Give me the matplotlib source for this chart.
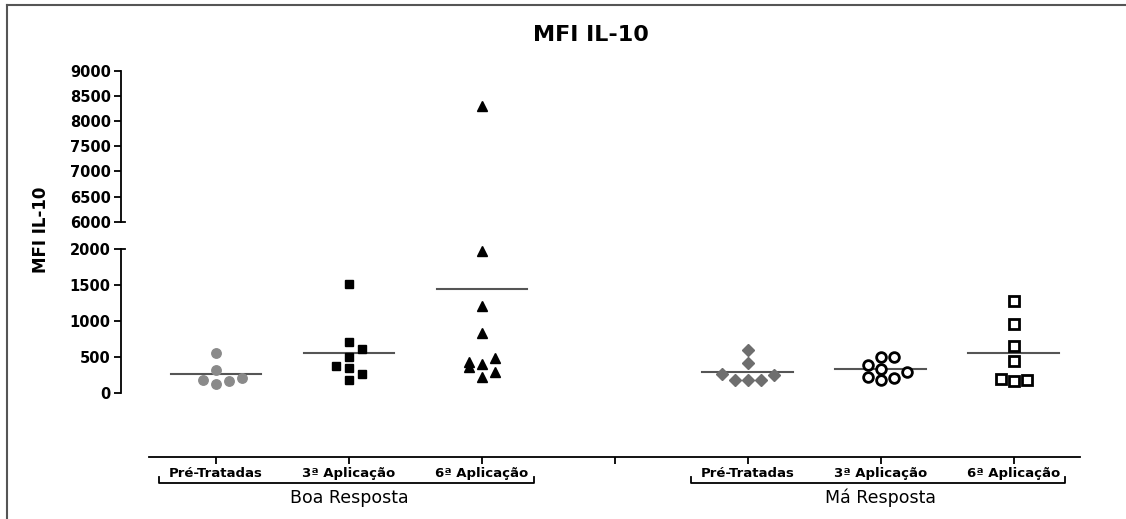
import matplotlib
matplotlib.use('Agg')
import matplotlib.pyplot as plt
import matplotlib.transforms as mtransforms
from matplotlib.lines import Line2D
import numpy as np

# MFI IL-10 values per group
boa_pre = [550, 312, 177, 126, 163, 200]
boa_3a = [1510, 703, 614, 494, 377, 344, 256, 177]
boa_6a = [8300, 1980, 1205, 828, 488, 428, 400, 363, 289, 215]
ma_pre = [591, 410, 261, 181, 177, 177, 247]
ma_3a = [502, 502, 382, 326, 284, 223, 205, 177]
ma_6a = [1283, 958, 656, 446, 187, 167, 173]

# horizontal spread of points inside each column (in point-widths)
spread = [
    [0, 0, -1, 0, 1, 2],
    [0, 0, 1, 0, -1, 0, 1, 0],
    [0, 0, 0, 0, 1, -1, 0, -1, 1, 0],
    [0, 0, -2, -1, 0, 1, 2],
    [0, 1, -1, 0, 2, -1, 1, 0],
    [0, 0, 0, 0, -1, 0, 1],
]

positions = [1, 2, 3, 5, 6, 7]
cat_labels = ['Pré-Tratadas', '3ª Aplicação', '6ª Aplicação'] * 2
group_labels = ['Boa Resposta', 'Má Resposta']

series = [boa_pre, boa_3a, boa_6a, ma_pre, ma_3a, ma_6a]
styles = [
    dict(marker='o', color='#8a8a8a', mec='#8a8a8a', ms=6.8),
    dict(marker='s', color='black', mec='black', ms=6.3),
    dict(marker='^', color='black', mec='black', ms=6.8),
    dict(marker='D', color='#6e6e6e', mec='#6e6e6e', ms=5.8),
    dict(marker='o', color='white', mec='black', ms=7, mew=2),
    dict(marker='s', color='white', mec='black', ms=7, mew=2),
]

W, H = 1126, 519
fig = plt.figure(figsize=(W / 100, H / 100), dpi=100)
plt.rcParams['font.family'] = 'DejaVu Sans'

x_left = 120.5
x_right = 1080
xlim = (1 + (x_left - 216) / 133, 7.5)
step = 13 / 133

def fx(px):
    return px / W

def fy(py):
    return (H - py) / H

# lower axis: 0-2000, x axis offset below
y0, y2000, yaxis = 392.7, 249.3, 457
ylow = -(yaxis - y0) * 2000 / (y0 - y2000)
ax = fig.add_axes([fx(x_left), fy(yaxis), (x_right - x_left) / W, (yaxis - y2000) / H])
ax.set_ylim(ylow, 2000)
ax.set_xlim(*xlim)

# upper axis: 6000-9000
y6000, y9000 = 221.7, 70.7
ax2 = fig.add_axes([fx(x_left), fy(y6000), (x_right - x_left) / W, (y6000 - y9000) / H])
ax2.set_ylim(6000, 9000)
ax2.set_xlim(*xlim)

for a in (ax, ax2):
    a.spines['top'].set_visible(False)
    a.spines['right'].set_visible(False)
    a.spines['left'].set_linewidth(1.3)
    a.tick_params(axis='y', direction='out', length=5, width=1.3, pad=2,
                  labelsize=10.5)
    a.patch.set_alpha(0)

ax2.spines['bottom'].set_visible(False)
ax2.set_xticks([])
ax2.set_yticks(np.arange(6000, 9001, 500))
ax.set_yticks(np.arange(0, 2001, 500))
ax.spines['left'].set_bounds(0, 2000)
ax.spines['bottom'].set_bounds(0.5, 7.5)
ax.spines['bottom'].set_linewidth(1.3)
ax.set_xticks([1, 2, 3, 4, 5, 6, 7])
ax.set_xticklabels(cat_labels[:3] + [''] + cat_labels[3:], fontsize=9.5, fontweight='bold')
ax.tick_params(axis='x', direction='out', length=5, width=1.3, pad=2)
for a in (ax, ax2):
    for t in a.get_yticklabels():
        t.set_fontweight('bold')

# break stubs on the y axis
d = 5 / 133
ax2.plot([xlim[0], xlim[0] + d], [6000, 6000], color='black', lw=1.3, clip_on=False)
ax.plot([xlim[0], xlim[0] + d], [2000, 2000], color='black', lw=1.3, clip_on=False)

# points and mean lines
for pos, vals, offs, st in zip(positions, series, spread, styles):
    vals = np.array(vals, dtype=float)
    xs = pos + np.array(offs) * step
    for a, lo, hi in ((ax, 0, 2100), (ax2, 5900, 9100)):
        m = (vals >= lo) & (vals <= hi)
        if m.any():
            a.plot(xs[m], vals[m], linestyle='none', marker=st['marker'],
                   markerfacecolor=st['color'], markeredgecolor=st['mec'],
                   markersize=st['ms'], markeredgewidth=st.get('mew', 1),
                   clip_on=False, zorder=3)
    mean = vals.mean()
    if mean <= 2000:
        ax.plot([pos - 0.34, pos + 0.34], [mean, mean], color='#555555', lw=1.5, zorder=2)

# group brackets and labels
trans = mtransforms.blended_transform_factory(ax.transData, fig.transFigure)
for (first, last), label in zip([(1, 3), (5, 7)], group_labels):
    xa, xb = first - 0.43, last + 0.39
    ax.plot([xa, xa, xb, xb], [fy(477), fy(483), fy(483), fy(477)],
            color='black', lw=1.3, transform=trans, clip_on=False)
    ax.text((first + last) / 2, fy(498), label, transform=trans,
            ha='center', va='center', fontsize=12.5)

# y label and title
fig.text(fx(41), fy(230), 'MFI IL-10', rotation=90, ha='center', va='center',
         fontsize=12, fontweight='bold')
fig.text(fx(591), fy(35), 'MFI IL-10', ha='center', va='center',
         fontsize=16, fontweight='bold')

# frame around the figure
fig.add_artist(Line2D([fx(7), fx(7)], [fy(5), 0], color='#555555', lw=1.5))
fig.add_artist(Line2D([fx(7), 1], [fy(5), fy(5)], color='#555555', lw=1.5))

fig.savefig('out.png', dpi=100)
